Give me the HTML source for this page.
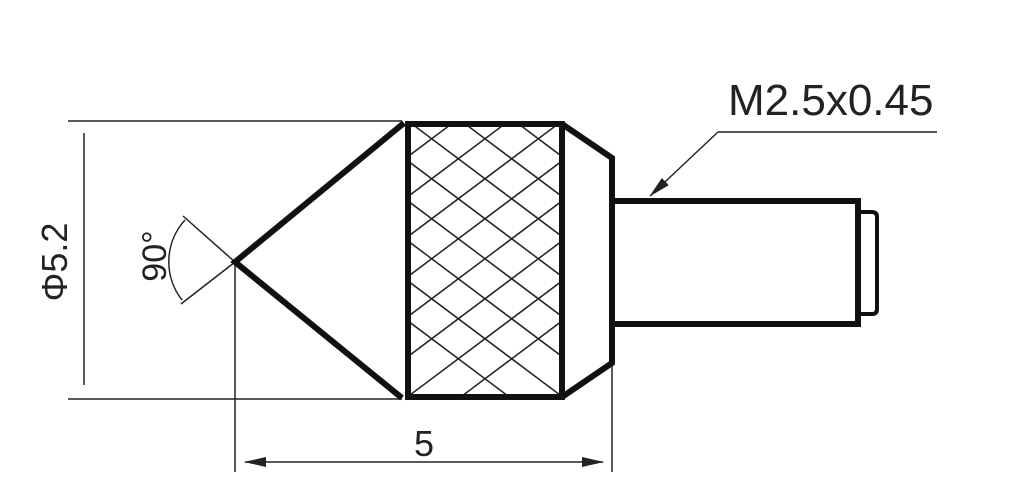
<!DOCTYPE html>
<html><head><style>html,body{margin:0;background:#fff;overflow:hidden;width:1024px;height:486px}svg{display:block}</style></head>
<body>
<svg width="1024" height="486" viewBox="0 0 1024 486" xmlns="http://www.w3.org/2000/svg">
<defs>
<clipPath id="k"><rect x="411" y="127" width="148" height="267"/></clipPath>
<marker id="a" markerWidth="22" markerHeight="10" refX="21" refY="5" orient="auto-start-reverse" markerUnits="userSpaceOnUse"><path d="M0,0 L22,5 L0,10 Z" fill="#222"/></marker>
</defs>
<g stroke="#222" stroke-width="1.5" fill="none">
<line x1="68" y1="121" x2="402" y2="121"/>
<line x1="68" y1="399" x2="402" y2="399"/>
<line x1="84" y1="133" x2="84" y2="385"/>
<line x1="235" y1="262" x2="235" y2="472"/>
<line x1="612" y1="363" x2="612" y2="472"/>
<line x1="245" y1="462" x2="603" y2="462" marker-end="url(#a)" marker-start="url(#a)"/>
<line x1="235" y1="262" x2="183" y2="216"/>
<line x1="235" y1="262" x2="181" y2="304"/>
<path d="M185,220 A62,62 0 0 0 182,300"/>
<line x1="937" y1="132" x2="718" y2="132"/>
<line x1="718" y1="132" x2="650" y2="196" marker-end="url(#a)"/>
</g>
<g clip-path="url(#k)" stroke="#222" stroke-width="1.5">
<g id="h">
<line x1="300" y1="80" x2="700" y2="380"/><line x1="300" y1="120" x2="700" y2="420"/><line x1="300" y1="160" x2="700" y2="460"/><line x1="300" y1="200" x2="700" y2="500"/><line x1="300" y1="240" x2="700" y2="540"/><line x1="300" y1="40" x2="700" y2="340"/><line x1="300" y1="0" x2="700" y2="300"/><line x1="300" y1="-40" x2="700" y2="260"/><line x1="300" y1="-80" x2="700" y2="220"/><line x1="300" y1="-120" x2="700" y2="180"/><line x1="300" y1="-160" x2="700" y2="140"/><line x1="300" y1="-200" x2="700" y2="100"/><line x1="300" y1="-240" x2="700" y2="60"/>
</g>
<use href="#h" transform="translate(970,0) scale(-1,1)"/>
</g>
<g stroke="#111" stroke-width="6" fill="none" stroke-linejoin="miter">
<path d="M404,123 L235,262 L402,398"/>
<rect x="408" y="124" width="154" height="273"/>
<path d="M562,124 L612,158 L612,363 L562,397"/>
<path d="M612,201 L858,201 L858,324 L612,324"/>
<path d="M860,212 L872,212 Q877,212 877,217 L877,309 Q877,314 872,314 L860,314" stroke-width="4"/>
</g>
<g font-family="Liberation Sans, sans-serif" fill="#222">
<text x="728" y="115" font-size="44">M2.5x0.45</text>
<text x="424" y="456" font-size="36" text-anchor="middle">5</text>
<text transform="translate(67,262) rotate(-90)" font-size="36" text-anchor="middle">Φ5.2</text>
<text transform="translate(166,256) rotate(-90)" font-size="34" text-anchor="middle">90°</text>
</g>
</svg>
</body></html>
